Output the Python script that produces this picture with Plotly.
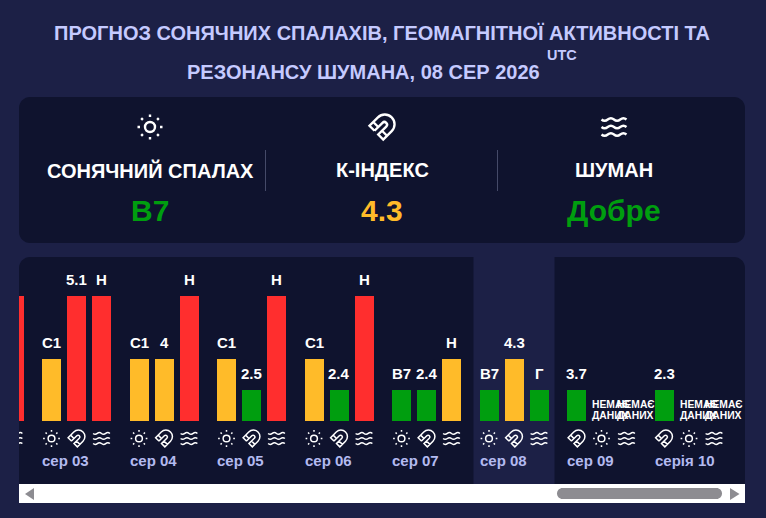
import math
import plotly.graph_objects as go

# ---- data ----
days = ["сер 02", "сер 03", "сер 04", "сер 05", "сер 06", "сер 07", "сер 08", "сер 09", "серія 10"]
today = "сер 08"
no_data = "НЕМАЄ ДАНИХ"
flare_labels = [None, "C1", "C1", "C1", "C1", "B7", "B7", no_data, no_data]
flare_levels = [None, 2, 2, 2, 2, 1, 1, 0, 0]
kp_labels = [None, "5.1", "4", "2.5", "2.4", "2.4", "4.3", "3.7", "2.3"]
kp_levels = [None, 4, 2, 1, 1, 1, 2, 1, 1]
schumann_labels = ["Н", "Н", "Н", "Н", "Н", "Н", "Г", no_data, no_data]
schumann_levels = [4, 4, 4, 4, 4, 2, 1, 0, 0]
flare_slots = [0, 0, 0, 0, 0, 0, 0, 1, 1]
kp_slots = [1, 1, 1, 1, 1, 1, 1, 0, 0]
schumann_slots = [2, 2, 2, 2, 2, 2, 2, 2, 2]
title_lines = ["ПРОГНОЗ СОНЯЧНИХ СПАЛАХІВ, ГЕОМАГНІТНОЇ АКТИВНОСТІ ТА",
               "РЕЗОНАНСУ ШУМАНА, 08 СЕР 2026"]
summary_titles = ["СОНЯЧНИЙ СПАЛАХ", "К-ІНДЕКС", "ШУМАН"]
summary_values = ["B7", "4.3", "Добре"]
summary_levels = [1, 2, 1]

# ---- styles ----
W, H = 766, 518
BG = "#1c2046"
PANEL = "#0f132e"
GREEN, AMBER, RED = "#009e0f", "#ffbb29", "#ff2e2e"
COLORS = {0: GREEN, 1: GREEN, 2: AMBER, 4: RED}
FONT = "Liberation Sans"
TITLE_C = "#c5caff"
DATE_C = "#b3baf0"
GREY = "#8d8c91"

DAY_PX = 87.5
SLOT = 25 / DAY_PX
BAR_W = 19 / DAY_PX
LEVEL_PX = 31.25
PANEL_L, PANEL_R, PANEL_T, PANEL_B = 19, 745, 257, 484
FIRST_C = 51.5 - DAY_PX          # pixel centre of first slot of first day
BASE = 421


def px(x):
    return x / W


def py(y):
    return 1 - y / H


def rrect(x0, y0, x1, y1, r, corners="tl tr br bl"):
    k = 0.45 * r
    c = corners.split()
    s = []
    if "tl" in c:
        s.append(f"M{px(x0)},{py(y0 + r)} C{px(x0)},{py(y0 + k)} {px(x0 + k)},{py(y0)} {px(x0 + r)},{py(y0)}")
    else:
        s.append(f"M{px(x0)},{py(y0)}")
    if "tr" in c:
        s.append(f"L{px(x1 - r)},{py(y0)} C{px(x1 - k)},{py(y0)} {px(x1)},{py(y0 + k)} {px(x1)},{py(y0 + r)}")
    else:
        s.append(f"L{px(x1)},{py(y0)}")
    if "br" in c:
        s.append(f"L{px(x1)},{py(y1 - r)} C{px(x1)},{py(y1 - k)} {px(x1 - k)},{py(y1)} {px(x1 - r)},{py(y1)}")
    else:
        s.append(f"L{px(x1)},{py(y1)}")
    if "bl" in c:
        s.append(f"L{px(x0 + r)},{py(y1)} C{px(x0 + k)},{py(y1)} {px(x0)},{py(y1 - k)} {px(x0)},{py(y1 - r)}")
    else:
        s.append(f"L{px(x0)},{py(y1)}")
    return " ".join(s) + " Z"


def box(x0, y0, x1, y1, r, color, corners="tl tr br bl", layer="below"):
    return dict(type="path", xref="paper", yref="paper", path=rrect(x0, y0, x1, y1, r, corners),
                fillcolor=color, line=dict(width=0), layer=layer)


# ---- icons (24-unit outlines, absolute commands) ----
def arc(cx, cy, r, a0, a1, start=False):
    n = max(1, math.ceil(abs(a1 - a0) / 90))
    step = math.radians((a1 - a0) / n)
    k = 4 / 3 * math.tan(step / 4)
    out = []
    a = math.radians(a0)
    if start:
        out.append(("M", cx + r * math.cos(a), cy + r * math.sin(a)))
    for _ in range(n):
        b = a + step
        p0 = (cx + r * math.cos(a), cy + r * math.sin(a))
        p1 = (cx + r * math.cos(b), cy + r * math.sin(b))
        out.append(("C", p0[0] - k * r * math.sin(a), p0[1] + k * r * math.cos(a),
                    p1[0] + k * r * math.sin(b), p1[1] - k * r * math.cos(b), p1[0], p1[1]))
        a = b
    return out


def seg(x0, y0, x1, y1):
    return [("M", x0, y0), ("L", x1, y1)]


SUN = arc(12, 12, 4, 0, 360, start=True) + seg(12, 2, 12, 4) + seg(12, 20, 12, 22) \
    + seg(4.93, 4.93, 6.34, 6.34) + seg(17.66, 17.66, 19.07, 19.07) + seg(2, 12, 4, 12) + seg(20, 12, 22, 12) \
    + seg(6.34, 17.66, 4.93, 19.07) + seg(19.07, 4.93, 17.66, 6.34)

MAGNET = [("M", 6, 15), ("L", 2, 11), ("L", 8.75, 4.23)] + arc(14.25, 9.73, 7.78, -135, 45) \
    + [("L", 13, 22), ("L", 9, 18), ("L", 15.39, 11.64)] + arc(13.89, 10.14, 2.12, 45, -135) \
    + [("L", 6, 15)] + seg(5, 8, 9, 12) + seg(12, 15, 16, 19)

WAVES = []
for wy in (6, 12, 18):
    WAVES += [("M", 2, wy),
              ("C", 2.6, wy + .5, 3.2, wy + 1, 4.5, wy + 1),
              ("C", 7, wy + 1, 7, wy - 1, 9.5, wy - 1),
              ("C", 12.1, wy - 1, 11.9, wy + 1, 14.5, wy + 1),
              ("C", 17, wy + 1, 17, wy - 1, 19.5, wy - 1),
              ("C", 20.8, wy - 1, 21.4, wy - .5, 22, wy)]

ICONS = {"sun": SUN, "magnet": MAGNET, "waves": WAVES}


def icon_path(cmds, scale):
    out = []
    for cmd in cmds:
        nums = cmd[1:]
        pts = [f"{(nums[i] - 12) * scale:.2f},{-(nums[i + 1] - 12) * scale:.2f}" for i in range(0, len(nums), 2)]
        out.append(cmd[0] + " ".join(pts))
    return " ".join(out)


def icon_shape(name, x, y, scale=0.84, xref="x", yref="y", width=1.5):
    return dict(type="path", xref=xref, yref=yref, xsizemode="pixel", ysizemode="pixel",
                xanchor=x, yanchor=y, path=icon_path(ICONS[name], scale),
                line=dict(color="white", width=width), fillcolor="rgba(0,0,0,0)", layer="above")


# ---- figure ----
fig = go.Figure()
series = [("Сонячний спалах", flare_labels, flare_levels, flare_slots, "sun"),
          ("К-індекс", kp_labels, kp_levels, kp_slots, "magnet"),
          ("Шуман", schumann_labels, schumann_levels, schumann_slots, "waves")]

annotations = []
shapes = [box(19, 97, 745, 243, 11, PANEL),
          box(PANEL_L, PANEL_T, PANEL_R, PANEL_B, 11, PANEL, corners="tl tr")]

# highlight band for the current day
i_today = days.index(today)
shapes.append(dict(type="rect", xref="x", yref="paper",
                   x0=i_today - (BAR_W / 2 + 6 / DAY_PX), x1=i_today + 2 * SLOT + BAR_W / 2 + 6 / DAY_PX,
                   y0=py(PANEL_B), y1=py(PANEL_T), fillcolor=BG, line=dict(width=0), layer="below"))

ICON_Y = (BASE - 438.5) / LEVEL_PX
DATE_Y = (BASE - 460.5) / LEVEL_PX

for name, labels, levels, slots, icon in series:
    xs = [i + slots[i] * SLOT for i in range(len(days))]
    fig.add_trace(go.Bar(x=xs, y=levels, width=BAR_W, name=name,
                         marker=dict(color=[COLORS.get(v, GREEN) for v in levels], line=dict(width=0)),
                         hoverinfo="skip", showlegend=False))
    for x, lab, lev in zip(xs, labels, levels):
        if lev is None:
            continue
        shapes.append(icon_shape(icon, x, ICON_Y))
        if lab == no_data:
            for line, shift in zip(lab.split(" "), (16.7, 5.7)):
                annotations.append(dict(x=x - BAR_W / 2, y=lev, xref="x", yref="y", text=line, showarrow=False,
                                        xanchor="left", yanchor="middle", yshift=shift, borderpad=0, borderwidth=0,
                                        font=dict(family=FONT, size=10.3, color="white", weight="bold")))
        else:
            annotations.append(dict(x=x, y=lev, xref="x", yref="y", text=lab, showarrow=False,
                                    xanchor="center", yanchor="middle", yshift=16.5, borderpad=0, borderwidth=0,
                                    font=dict(family=FONT, size=15, color="white", weight="bold")))

for i, d in enumerate(days):
    annotations.append(dict(x=i - BAR_W / 2, y=DATE_Y, xref="x", yref="y", text=d, showarrow=False,
                            xanchor="left", yanchor="middle", borderpad=0, borderwidth=0,
                            font=dict(family=FONT, size=15, color=DATE_C, weight="bold")))


def paper_text(x, y, text, size, color, anchor="center"):
    return dict(x=px(x), y=py(y), xref="paper", yref="paper", text=text, showarrow=False,
                xanchor=anchor, yanchor="middle", borderpad=0, borderwidth=0,
                font=dict(family=FONT, size=size, color=color, weight="bold"))


annotations.append(paper_text(363.5, 72, title_lines[1], 20, TITLE_C))
annotations.append(paper_text(561.5, 55, "UTC", 14.5, TITLE_C))

# summary panel
for cx, t, v, l, ic in zip((150, 382, 614), summary_titles, summary_values, summary_levels, ("sun", "magnet", "waves")):
    annotations.append(paper_text(cx, 170.5, t, 20, "white"))
    annotations.append(paper_text(cx, 211, v, 30, COLORS[l]))
    shapes.append(icon_shape(ic, px(cx), py(127), scale=1.25, xref="paper", yref="paper", width=2.4))
for dx in (265.5, 497.5):
    shapes.append(dict(type="line", xref="paper", yref="paper", x0=px(dx), x1=px(dx), y0=py(150), y1=py(191),
                       line=dict(color="#454a68", width=1), layer="below"))

# scrollbar
shapes.append(box(PANEL_L, PANEL_B, PANEL_R, 503, 0.01, "white", layer="above"))
shapes.append(box(557, 488, 722, 499, 5.5, GREY, layer="above"))
for pts in ([(34, 488), (34, 500), (25, 494)], [(730, 488), (730, 500), (739.5, 494)]):
    p = "M" + " L".join(f"{px(a)},{py(b)}" for a, b in pts) + " Z"
    shapes.append(dict(type="path", xref="paper", yref="paper", path=p, fillcolor=GREY, line=dict(width=0), layer="above"))

fig.update_layout(
    width=W, height=H, autosize=False,
    margin=dict(l=0, r=0, t=0, b=0, pad=0),
    paper_bgcolor=BG, plot_bgcolor="rgba(0,0,0,0)",
    barmode="overlay", bargap=0, showlegend=False,
    title=dict(text=title_lines[0], x=382 / W, xanchor="center", xref="paper", y=py(33), yref="paper", yanchor="middle",
               font=dict(family=FONT, size=20, color=TITLE_C, weight="bold")),
    xaxis=dict(domain=[px(PANEL_L), px(PANEL_R)],
               range=[(PANEL_L - FIRST_C) / DAY_PX, (PANEL_R - FIRST_C) / DAY_PX],
               visible=False, fixedrange=True),
    yaxis=dict(domain=[py(PANEL_B), py(PANEL_T)],
               range=[(BASE - PANEL_B) / LEVEL_PX, (BASE - PANEL_T) / LEVEL_PX],
               visible=False, fixedrange=True),
    shapes=shapes, annotations=annotations,
)

fig.write_html("out.html", config={"displayModeBar": False},
               post_script="document.body.style.margin='0';document.body.style.overflow='hidden';")
